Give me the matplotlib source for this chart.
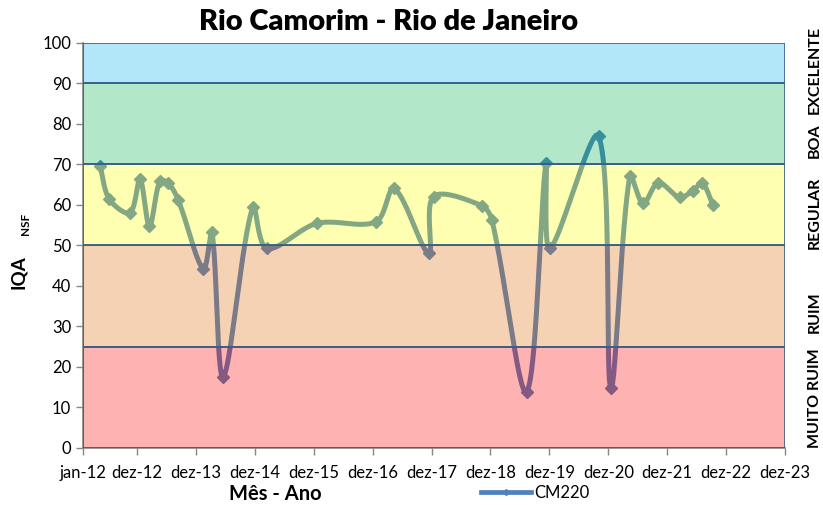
import numpy as np
import pandas as pd
import matplotlib
matplotlib.use("Agg")
import matplotlib.pyplot as plt
import matplotlib.dates as mdates
from matplotlib.patches import Rectangle
from matplotlib.lines import Line2D

plt.rcParams["font.family"] = ["Lato", "DejaVu Sans"]

# CM220 samples (IQA NSF)
datas = ["2012-04-16", "2012-06-13", "2012-10-19", "2012-12-19", "2013-02-16",
         "2013-04-22", "2013-06-13", "2013-08-13", "2014-01-16", "2014-03-10",
         "2014-05-19", "2014-11-19", "2015-02-13", "2015-12-22", "2016-12-22",
         "2017-04-13", "2017-11-13", "2017-12-13", "2018-10-07", "2018-12-10",
         "2019-07-13", "2019-11-10", "2019-12-04", "2020-10-01", "2020-12-16",
         "2021-04-13", "2021-07-04", "2021-10-07", "2022-02-16", "2022-05-10",
         "2022-07-07", "2022-09-10"]
iqa = [69.5, 61.3, 58.0, 66.3, 54.7,
       65.9, 65.3, 61.2, 44.1, 53.3,
       17.6, 59.5, 49.2, 55.4, 55.8,
       64.0, 48.0, 62.0, 59.8, 56.2,
       13.9, 70.2, 49.2, 76.9, 14.7,
       67.1, 60.3, 65.4, 61.8, 63.5,
       65.3, 59.9]

# faixas de qualidade
faixas = ["MUITO RUIM", "RUIM", "REGULAR", "BOA", "EXCELENTE"]
limites = [0, 25, 50, 70, 90, 100]
cores_faixa = ["#FF0000", "#E46C0A", "#FFFF00", "#00B050", "#00B0F0"]

tick_datas = ["2012-01-01"] + ["%d-12-01" % a for a in range(2012, 2024)]
tick_nomes = ["jan-12"] + ["dez-%02d" % (a % 100) for a in range(2012, 2024)]

x = mdates.date2num(pd.to_datetime(datas))
y = np.array(iqa)
x0 = mdates.date2num(pd.Timestamp("2012-01-01"))
x1 = mdates.date2num(pd.Timestamp("2023-12-01"))

# tamanho da area do grafico em pixels
W, H = 702, 405.5


# linha suavizada tipo excel (bezier), calculada em pixels
def suaviza(px, py, n=40):
    P = np.column_stack([(px - x0) / (x1 - x0) * W, py / 100 * H])
    P = np.vstack([P[0], P, P[-1]])
    pts = []
    t = np.linspace(0, 1, n)[:, None]
    for i in range(1, len(P) - 2):
        p0, p1, p2, p3 = P[i - 1], P[i], P[i + 1], P[i + 2]
        d01 = np.hypot(*(p1 - p0))
        d12 = np.hypot(*(p2 - p1))
        d23 = np.hypot(*(p3 - p2))
        f1 = d12 / (d01 + d12) if d01 + d12 > 0 else 0
        f2 = d12 / (d12 + d23) if d12 + d23 > 0 else 0
        c1 = p1 + (p2 - p0) * f1 / 3
        c2 = p2 - (p3 - p1) * f2 / 3
        b = (1 - t) ** 3 * p1 + 3 * (1 - t) ** 2 * t * c1 + 3 * (1 - t) * t ** 2 * c2 + t ** 3 * p2
        pts.append(b)
    pts = np.vstack(pts)
    return pts[:, 0] / W * (x1 - x0) + x0, pts[:, 1] / H * 100


fig = plt.figure(figsize=(8.23, 5.05), dpi=100)
ax = fig.add_axes([83 / 823, 1 - 448 / 505, W / 823, H / 505])

azul = "#4F81BD"
sx, sy = suaviza(x, y)
ax.plot(sx, sy, color=azul, lw=3.6, solid_capstyle="round", zorder=2)
ax.plot(x, y, ls="none", marker="D", ms=6, color=azul, zorder=2)

for i, c in enumerate(cores_faixa):
    rgba = matplotlib.colors.to_rgba(c, 0.3)
    ax.add_patch(Rectangle((x0, limites[i]), x1 - x0, limites[i + 1] - limites[i],
                           facecolor=rgba, edgecolor="#385D8A", lw=1.2, zorder=3))

ax.set_xlim(x0, x1)
ax.set_ylim(0, 100)
ax.set_yticks(range(0, 101, 10))
ax.set_xticks(mdates.date2num(pd.to_datetime(tick_datas)))
ax.set_xticklabels(tick_nomes)
ax.tick_params(labelsize=12, color="#868686", length=5, width=1)
ax.tick_params(axis="x", pad=7)
for s in ["top", "right"]:
    ax.spines[s].set_visible(False)
for s in ["left", "bottom"]:
    ax.spines[s].set_color("#868686")
    ax.spines[s].set_linewidth(1.2)

fig.text(389 / 823, 1 - 22 / 505, "Rio Camorim - Rio de Janeiro", fontsize=21,
         fontweight="heavy", ha="center", va="center")
fig.text(275 / 823, 1 - 494 / 505, "Mês - Ano", fontsize=14.5, fontweight="bold",
         ha="center", va="center")
fig.text(18 / 823, 1 - 272 / 505, "IQA", fontsize=13.5, fontweight="bold",
         rotation=90, ha="center", va="center")
fig.text(25 / 823, 1 - 224 / 505, "NSF", fontsize=8.5, fontweight="bold",
         rotation=90, ha="center", va="center")

pos_rot = [398, 312, 213, 141, 70]
for nome, py in zip(faixas, pos_rot):
    fig.text(815 / 823, 1 - py / 505, nome, fontsize=11.5, fontweight="bold",
             rotation=90, ha="center", va="center")

h = Line2D([], [], color=azul, lw=3.4, marker="D", ms=3)
fig.legend([h], ["CM220"], loc="center", bbox_to_anchor=(535 / 823, 1 - 493 / 505),
           frameon=False, fontsize=12, handlelength=3, handletextpad=0.2)

fig.savefig("out.png", dpi=100)
